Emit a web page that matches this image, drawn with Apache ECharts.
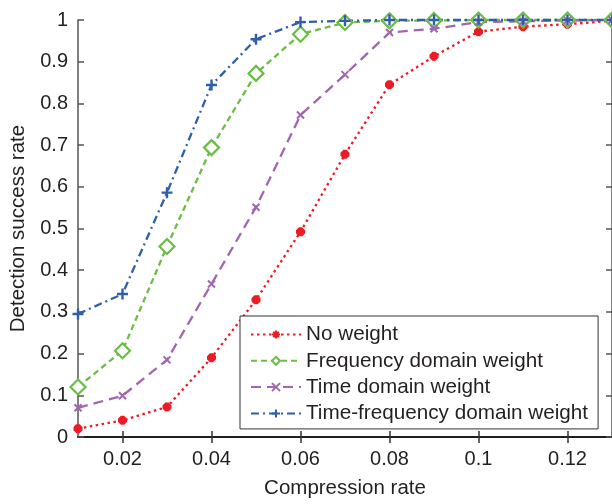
<!DOCTYPE html>
<html>
<head>
<meta charset="utf-8">
<script src="https://cdn.jsdelivr.net/npm/echarts@6/dist/echarts.min.js"></script>
<style>
  html, body { margin: 0; padding: 0; background: #fff; }
  #main-chart { width: 612px; height: 504px; }
</style>
</head>
<body>
<div id="main-chart"></div>
<script>
const compressionRates = [0.01, 0.02, 0.03, 0.04, 0.05, 0.06, 0.07, 0.08, 0.09, 0.1, 0.11, 0.12, 0.13]
const xTicks = [0.02, 0.04, 0.06, 0.08, 0.1, 0.12]
const noWeight = [0.02, 0.04, 0.072, 0.19, 0.329, 0.492, 0.678, 0.845, 0.913, 0.972, 0.984, 0.99, 0.998]
const freqWeight = [0.12, 0.207, 0.457, 0.694, 0.872, 0.966, 0.994, 0.998, 0.999, 1, 1, 1, 1]
const timeWeight = [0.07, 0.099, 0.185, 0.367, 0.551, 0.772, 0.869, 0.97, 0.979, 0.995, 0.997, 0.999, 1]
const timeFreqWeight = [0.295, 0.343, 0.586, 0.844, 0.954, 0.995, 0.998, 1, 1, 1, 1, 1, 1]

const TEXT = '#231f20'
const FONT = 'Liberation Sans'

const pairs = ys => compressionRates.map((x, i) => [x, ys[i]])

const chart = echarts.init(document.getElementById('main-chart'), null, { renderer: 'canvas' })

const lineSeries = (name, data, color, dash, symbol, size, fill, bw) => ({
  name: name,
  type: 'line',
  data: pairs(data),
  symbol: symbol,
  symbolSize: size,
  showAllSymbol: true,
  clip: false,
  lineStyle: { color: color, width: 2.3, type: dash },
  itemStyle: { color: fill, borderColor: color, borderWidth: bw }
})

chart.setOption({
  animation: false,
  backgroundColor: '#fff',
  textStyle: { fontFamily: FONT, color: TEXT },
  grid: { left: 76, top: 20, right: 0, bottom: 63.5 },
  legend: {
    orient: 'vertical',
    left: 240,
    top: 316,
    padding: [8, 10, 5, 10],
    itemGap: 5.3,
    itemWidth: 50,
    itemHeight: 10,
    backgroundColor: '#fff',
    borderColor: '#333',
    borderWidth: 1,
    borderRadius: 0,
    textStyle: { fontFamily: FONT, fontSize: 20.7, color: TEXT },
    data: ['No weight', 'Frequency domain weight', 'Time domain weight', 'Time-frequency domain weight']
  },
  xAxis: [
    {
      type: 'value',
      min: 0.01,
      max: 0.13,
      name: 'Compression rate',
      nameLocation: 'middle',
      nameGap: 41,
      nameTextStyle: { fontFamily: FONT, fontSize: 20.5, color: TEXT },
      splitLine: { show: false },
      axisLine: { lineStyle: { color: '#111', width: 1.5 } },
      axisTick: { inside: true, length: 6, customValues: xTicks, lineStyle: { color: '#333', width: 1.5 } },
      axisLabel: { customValues: xTicks, margin: 12, fontSize: 20, color: TEXT, fontFamily: FONT }
    },
    {
      type: 'value',
      position: 'top',
      min: 0.01,
      max: 0.13,
      splitLine: { show: false },
      axisLine: { lineStyle: { color: '#111', width: 1.5 } },
      axisTick: { inside: true, length: 6, customValues: xTicks, lineStyle: { color: '#333', width: 1.5 } },
      axisLabel: { show: false }
    }
  ],
  yAxis: [
    {
      type: 'value',
      min: 0,
      max: 1,
      interval: 0.1,
      name: 'Detection success rate',
      nameLocation: 'middle',
      nameGap: 49,
      nameTextStyle: { fontFamily: FONT, fontSize: 20.5, color: TEXT },
      splitLine: { show: false },
      axisLine: { lineStyle: { color: '#555', width: 1.5 } },
      axisTick: { inside: true, length: 6, lineStyle: { color: '#555', width: 1.5 } },
      axisLabel: { margin: 10, fontSize: 20, color: TEXT, fontFamily: FONT }
    },
    {
      type: 'value',
      position: 'right',
      min: 0,
      max: 1,
      interval: 0.1,
      splitLine: { show: false },
      axisLine: { lineStyle: { color: '#555', width: 1.5 } },
      axisTick: { inside: true, length: 6, lineStyle: { color: '#555', width: 1.5 } },
      axisLabel: { show: false }
    }
  ],
  series: [
    lineSeries('No weight', noWeight, '#ec1c24', [2.5, 3.5],
      'path://M0,5L10,5M5,0L5,10M1.6,1.6L8.4,8.4M8.4,1.6L1.6,8.4', 9, '#ec1c24', 3.5),
    lineSeries('Frequency domain weight', freqWeight, '#6cbd45', [6, 4], 'diamond', 15, '#fff', 2.2),
    lineSeries('Time domain weight', timeWeight, '#a066b0', [10, 6],
      'path://M0,0L10,10M10,0L0,10', 7, '#a066b0', 2),
    lineSeries('Time-frequency domain weight', timeFreqWeight, '#2f5fab', [8, 4, 2, 4],
      'path://M0,5L10,5M5,0L5,10', 11, '#2f5fab', 2.4)
  ]
})
</script>
</body>
</html>
